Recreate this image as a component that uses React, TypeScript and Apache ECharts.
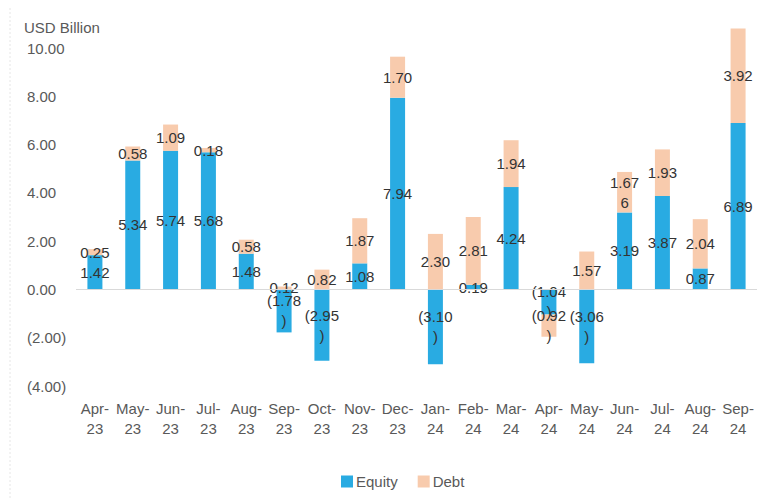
import React, { useEffect, useRef } from "react";
import * as echarts from "echarts";

const categories = ["Apr-\n23", "May-\n23", "Jun-\n23", "Jul-\n23", "Aug-\n23", "Sep-\n23", "Oct-\n23", "Nov-\n23", "Dec-\n23", "Jan-\n24", "Feb-\n24", "Mar-\n24", "Apr-\n24", "May-\n24", "Jun-\n24", "Jul-\n24", "Aug-\n24", "Sep-\n24"];
const equity = [1.42, 5.34, 5.74, 5.68, 1.48, -1.78, -2.95, 1.08, 7.94, -3.10, 0.19, 4.24, -1.04, -3.06, 3.19, 3.87, 0.87, 6.89];
const debt = [0.25, 0.58, 1.09, 0.18, 0.58, 0.12, 0.82, 1.87, 1.70, 2.30, 2.81, 1.94, -0.92, 1.57, 1.676, 1.93, 2.04, 3.92];
const yMin = -4;
const yMax = 10;
const yInterval = 2;

const FONT = "'Liberation Sans', Arial, sans-serif";

function fmtLabel(v: number): string {
  const a = Math.abs(v);
  const d = Math.abs(Math.round(a * 100) - a * 100) > 1e-6 ? 3 : 2;
  let s = a.toFixed(d);
  if (d === 3) s = s.slice(0, 4) + "\n" + s.slice(4);
  return v < 0 ? "(" + s + "\n)" : s;
}

function fmtAxis(v: number): string {
  return v < 0 ? "(" + Math.abs(v).toFixed(2) + ")" : v.toFixed(2);
}

export default function App() {
  const ref = useRef<HTMLDivElement>(null);
  useEffect(() => {
    document.body.style.margin = "0";
    const chart = echarts.init(ref.current!, null, { renderer: "svg" });
    const label = {
      show: true,
      position: "inside" as const,
      color: "#333333",
      fontFamily: FONT,
      fontSize: 15,
      lineHeight: 20,
      formatter: (p: any) => fmtLabel(p.value),
    };
    chart.setOption({
      animation: false,
      textStyle: { fontFamily: FONT },
      title: {
        text: "USD Billion",
        left: 19,
        top: 15,
        textStyle: { color: "#595959", fontSize: 15, fontWeight: "normal", fontFamily: FONT },
      },
      legend: {
        left: 336,
        top: 469,
        itemWidth: 12,
        itemHeight: 12,
        itemGap: 20,
        icon: "rect",
        textStyle: { color: "#595959", fontSize: 15, fontFamily: FONT, padding: [0, 0, 0, -2] },
        data: ["Equity", "Debt"],
      },
      grid: { left: 76, right: -3, top: 48, bottom: 116 },
      xAxis: {
        type: "category",
        data: categories,
        axisLine: { show: false, onZero: false },
        axisTick: { show: false },
        axisLabel: { color: "#595959", fontSize: 15, lineHeight: 20, margin: 12, fontFamily: FONT, interval: 0 },
      },
      yAxis: {
        type: "value",
        min: yMin,
        max: yMax,
        interval: yInterval,
        splitLine: { show: false },
        axisLine: { show: false },
        axisTick: { show: false },
        axisLabel: { color: "#595959", fontSize: 15, align: "left", margin: 49, fontFamily: FONT, formatter: fmtAxis },
      },
      graphic: [
        {
          type: "line",
          shape: { x1: 10, y1: 8, x2: 10, y2: 500 },
          style: { stroke: "#e6e6e6", lineWidth: 1, lineDash: [2, 2] },
        },
      ],
      series: [
        {
          name: "Equity",
          type: "bar",
          stack: "total",
          barWidth: 15,
          clip: false,
          data: equity,
          itemStyle: { color: "#29ABE2" },
          label,
          markLine: {
            silent: true,
            symbol: "none",
            label: { show: false },
            lineStyle: { color: "#d9d9d9", type: "solid", width: 1 },
            data: [{ yAxis: 0 }],
          },
        },
        {
          name: "Debt",
          type: "bar",
          stack: "total",
          barWidth: 15,
          clip: false,
          data: debt,
          itemStyle: { color: "#F8CBAD" },
          label,
        },
      ],
    });
    return () => chart.dispose();
  }, []);
  return <div ref={ref} style={{ width: 757, height: 502 }} />;
}
